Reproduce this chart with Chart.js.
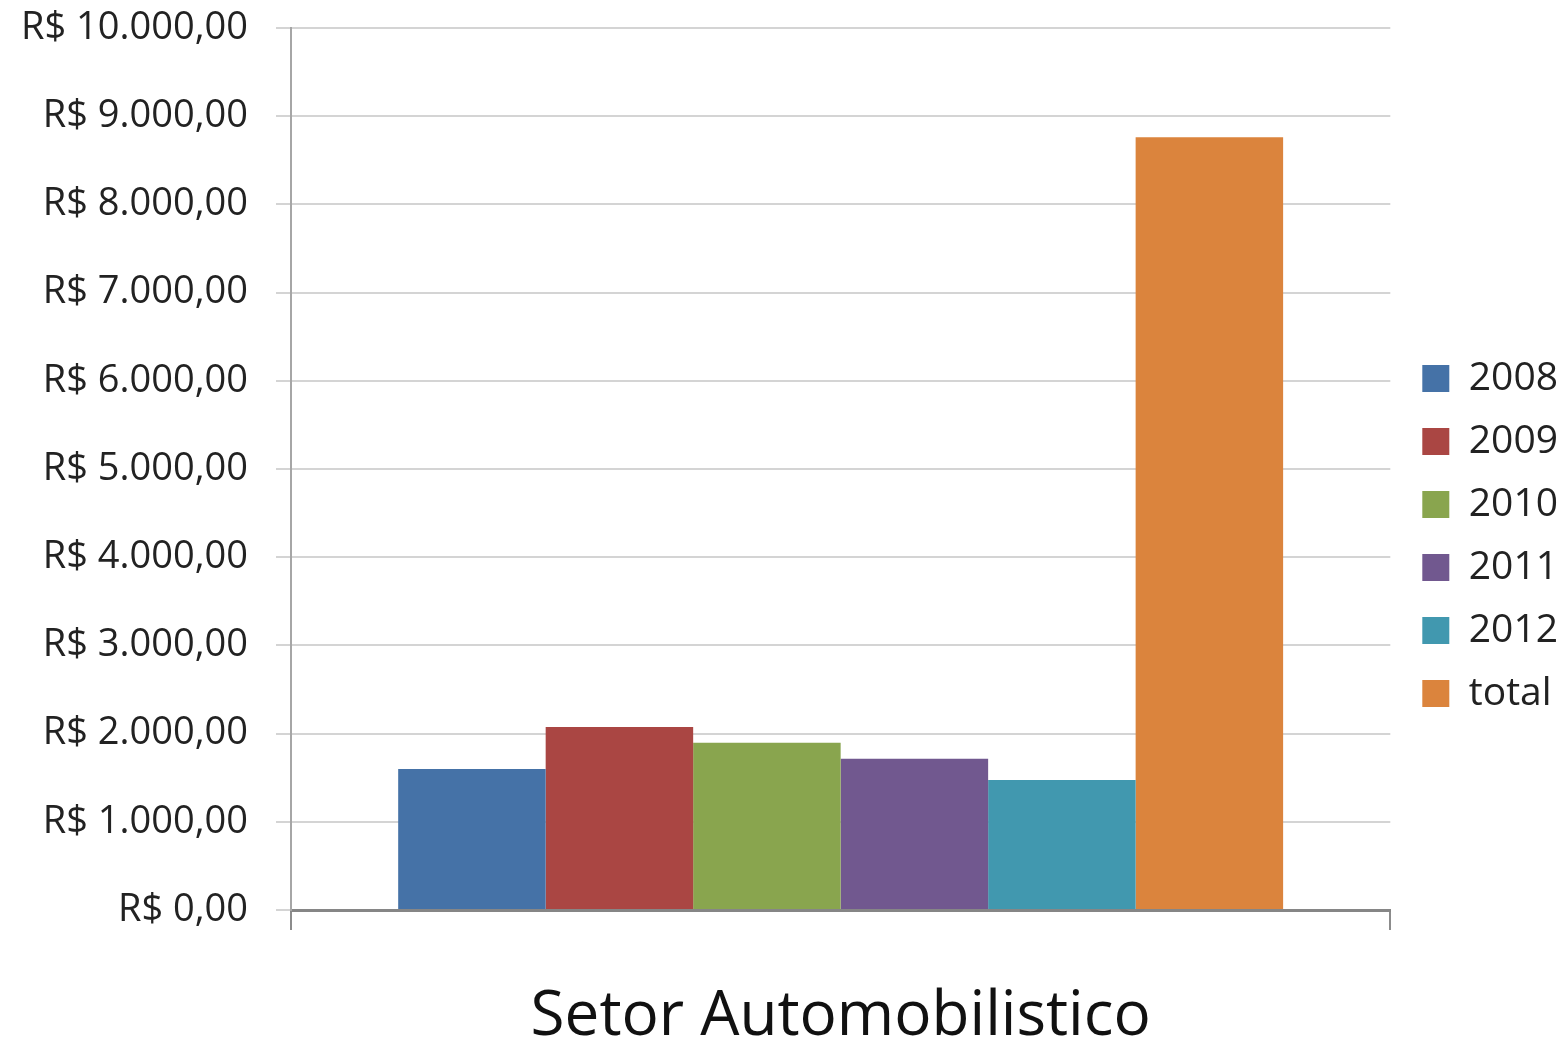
<!DOCTYPE html>
<html>
<head>
<meta charset="utf-8">
<title>Setor Automobilistico</title>
<script src="https://cdn.jsdelivr.net/npm/chart.js@4.4.1/dist/chart.umd.min.js"></script>
<style>
    html, body { margin: 0; padding: 0; background: #fff; }
    #wrap { width: 1560px; height: 1044px; }
</style>
</head>
<body>
<div id="wrap"><canvas id="setorChart" width="1560" height="1044"></canvas></div>
<script>
// Data
const categories = ['Setor Automobilistico'];
const seriesLabels = ['2008', '2009', '2010', '2011', '2012', 'total'];
const seriesValues = [1600, 2075, 1895, 1715, 1475, 8760];
const seriesColors = ['#4572A7', '#AA4643', '#89A54E', '#71588F', '#4198AF', '#DB843D'];
const yTicks = [0, 1000, 2000, 3000, 4000, 5000, 6000, 7000, 8000, 9000, 10000];

const FONT = '"Open Sans", Lato, sans-serif';

// R$ 1.234,00 style
function formatReal(v) {
    const parts = v.toFixed(2).split('.');
    const intPart = parts[0].replace(/\B(?=(\d{3})+(?!\d))/g, '.');
    return 'R$ ' + intPart + ',' + parts[1];
}

// nudge the legend a little to the right of the plot
const legendShift = {
    id: 'legendShift',
    afterLayout(chart) {
        const lg = chart.legend;
        if (lg) {
            lg.left += 8;
            lg.right += 8;
        }
    }
};

document.addEventListener('DOMContentLoaded', () => {
    const ctx = document.getElementById('setorChart').getContext('2d');

    const datasets = seriesLabels.map((label, i) => ({
        label: label,
        data: [seriesValues[i]],
        backgroundColor: seriesColors[i],
        borderWidth: 0,
        barPercentage: 1.0,
        categoryPercentage: 0.805
    }));

    new Chart(ctx, {
        type: 'bar',
        data: { labels: categories, datasets: datasets },
        plugins: [legendShift],
        options: {
            responsive: false,
            animation: false,
            layout: { padding: { top: 28, right: 0, left: 0, bottom: 0 } },
            plugins: {
                tooltip: { enabled: false },
                legend: {
                    position: 'right',
                    labels: {
                        boxWidth: 27,
                        boxHeight: 27,
                        padding: 24,
                        color: '#222',
                        font: { family: FONT, size: 39 }
                    }
                }
            },
            scales: {
                x: {
                    afterFit: (scale) => { scale.height = 134; },
                    grid: {
                        display: true,
                        drawOnChartArea: false,
                        color: '#8c8c8c',
                        lineWidth: 2,
                        tickLength: 20
                    },
                    border: { display: true, color: '#868686', width: 3 },
                    ticks: {
                        color: '#111',
                        padding: 50,
                        font: { family: FONT, size: 62 }
                    }
                },
                y: {
                    min: 0,
                    max: 10000,
                    afterFit: (scale) => {
                        scale.width = 291;
                        // let the top label overhang instead of pushing the plot down
                        scale.paddingTop = 0;
                        scale.paddingBottom = 0;
                    },
                    afterBuildTicks: (scale) => {
                        scale.ticks = yTicks.map(v => ({ value: v }));
                    },
                    grid: {
                        color: '#d4d4d4',
                        lineWidth: 2,
                        tickLength: 15
                    },
                    border: { display: true, color: '#a6a6a6', width: 2 },
                    ticks: {
                        color: '#222',
                        padding: 28,
                        font: { family: FONT, size: 38 },
                        callback: (v) => formatReal(v)
                    }
                }
            }
        }
    });
});
</script>
</body>
</html>
